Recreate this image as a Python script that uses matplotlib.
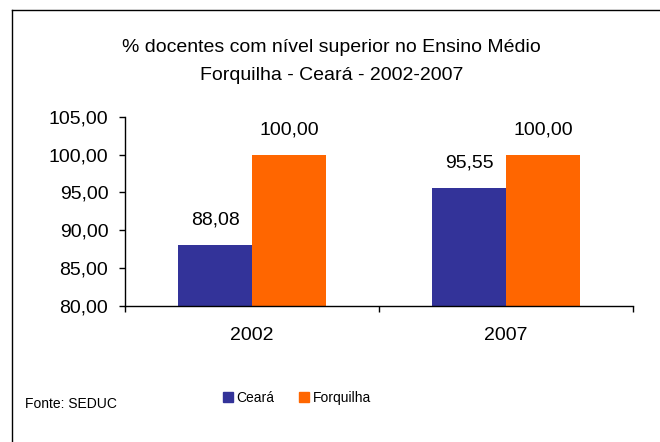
import matplotlib
matplotlib.use('Agg')
import matplotlib.pyplot as plt
from matplotlib.lines import Line2D
from matplotlib.patches import Patch
from matplotlib.ticker import FuncFormatter, FixedLocator
import numpy as np

plt.rcParams['font.family'] = ['Liberation Sans', 'DejaVu Sans']

# Data
years = ['2002', '2007']
ceara = [88.08, 95.55]
forquilha = [100.00, 100.00]
series_names = ['Ceará', 'Forquilha']
colors = ['#333399', '#FF6600']

W, H = 660, 442
fig = plt.figure(figsize=(W / 100, H / 100), dpi=100)
ax = fig.add_axes([125 / W, 1 - 305.7 / H, 508 / W, 189 / H])

x = np.arange(len(years))
bw = 0.291
bars1 = ax.bar(x - bw / 2, ceara, bw, color=colors[0], zorder=2)
bars2 = ax.bar(x + bw / 2, forquilha, bw, color=colors[1], zorder=2)

ax.set_xlim(-0.5, len(years) - 0.5)
ax.set_ylim(80, 105)
ax.set_yticks(np.arange(80, 106, 5))
ax.yaxis.set_major_formatter(FuncFormatter(lambda v, p: f'{v:.2f}'.replace('.', ',')))

# value labels
for bars in (bars1, bars2):
    for b in bars:
        h = b.get_height()
        ax.annotate(f'{h:.2f}'.replace('.', ','), (b.get_x() + b.get_width() / 2, h),
                    xytext=(0, 18), textcoords='offset points',
                    ha='center', va='center', fontsize=14)

ax.set_xticks(x)
ax.set_xticklabels(years)
ax.xaxis.set_minor_locator(FixedLocator(np.arange(-0.5, len(years), 1.0)))
ax.tick_params(axis='x', which='major', length=0, pad=15, labelsize=14)
ax.tick_params(axis='x', which='minor', length=4, width=1, direction='out')
ax.tick_params(axis='y', length=4, width=1, direction='out', pad=8, labelsize=14)

for s in ['top', 'right']:
    ax.spines[s].set_visible(False)
for s in ['left', 'bottom']:
    ax.spines[s].set_linewidth(1)

fig.text(0.502, 1 - 47 / H, '% docentes com nível superior no Ensino Médio',
         ha='center', va='center', fontsize=14)
fig.text(0.502, 1 - 75 / H, 'Forquilha - Ceará - 2002-2007',
         ha='center', va='center', fontsize=14)

handles = [Patch(color=c, label=n) for c, n in zip(colors, series_names)]
fig.legend(handles=handles, loc='center', bbox_to_anchor=(297 / W, 1 - 398 / H),
           ncol=2, frameon=False, fontsize=10, handlelength=0.7, handleheight=0.7,
           handletextpad=0.25, columnspacing=1.8, borderpad=0)

fig.text(25 / W, 1 - 404 / H, 'Fonte: SEDUC', ha='left', va='center', fontsize=10)

# outer frame (top and left edges only visible)
fig.add_artist(Line2D([11.5 / W, 11.5 / W], [0, 1 - 9.5 / H], color='black', lw=1))
fig.add_artist(Line2D([11.5 / W, 1], [1 - 9.5 / H, 1 - 9.5 / H], color='black', lw=1))

fig.savefig('out.png', dpi=100)
